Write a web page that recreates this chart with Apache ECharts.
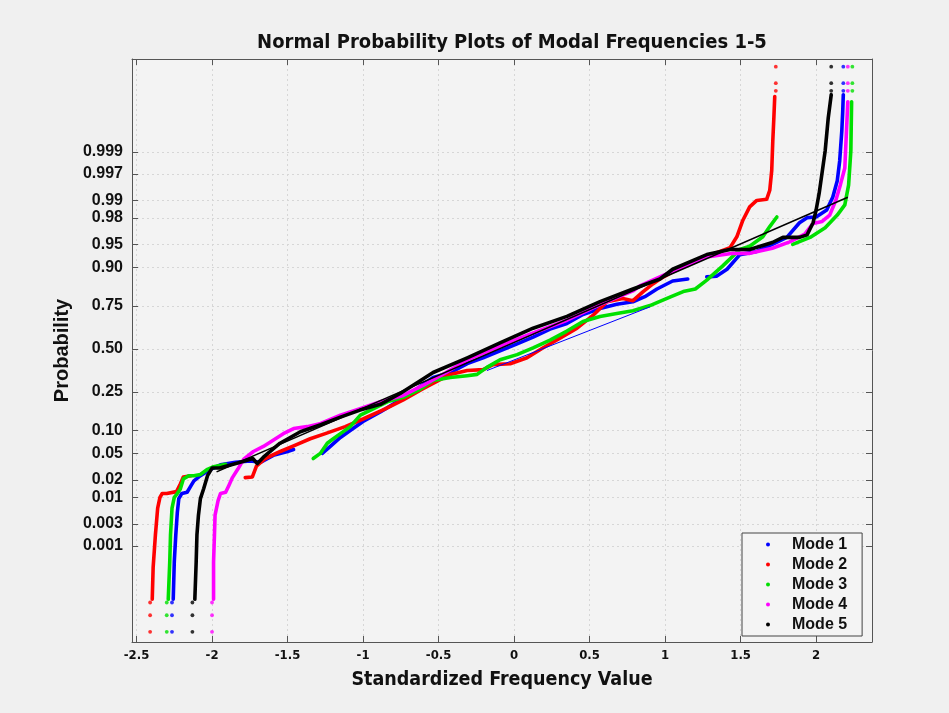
<!DOCTYPE html>
<html>
<head>
<meta charset="utf-8">
<script src="https://cdn.jsdelivr.net/npm/echarts@6/dist/echarts.min.js"></script>
<style>
html,body{margin:0;padding:0;background:#ffffff;}
#chart{width:949px;height:713px;}
</style>
</head>
<body>
<div id="chart"></div>
<script>
// ---------- DATA (x = standardized frequency value, q = normal quantile of probability) ----------
const titleText = 'Normal Probability Plots of Modal Frequencies 1-5';
const xAxisName = 'Standardized Frequency Value';
const yAxisName = 'Probability';
const seriesNames = ['Mode 1', 'Mode 2', 'Mode 3', 'Mode 4', 'Mode 5'];
const xTickValues = [-2.5, -2, -1.5, -1, -0.5, 0, 0.5, 1, 1.5, 2];
const probTicks = [0.001, 0.003, 0.01, 0.02, 0.05, 0.10, 0.25, 0.50, 0.75, 0.90, 0.95, 0.98, 0.99, 0.997, 0.999];
const probTickLabels = ['0.001', '0.003', '0.01', '0.02', '0.05', '0.10', '0.25', '0.50', '0.75', '0.90', '0.95', '0.98', '0.99', '0.997', '0.999'];

const mode1 = [[-2.257,-3.93],[-2.25,-3.34],[-2.24,-2.92],[-2.23,-2.57],[-2.22,-2.35],[-2.20,-2.27],[-2.165,-2.25],[-2.14,-2.15],[-2.12,-2.07],[-2.077,-1.99],[-2.01,-1.89],[-1.944,-1.82],[-1.845,-1.78],[-1.746,-1.76],[-1.68,-1.78],[-1.594,-1.67],[-1.50,-1.61],[-1.46,-1.58], null,
  [-1.27,-1.64],[-1.217,-1.53],[-1.15,-1.39],[-1.085,-1.28],[-1.0,-1.14],[-0.886,-0.99],[-0.754,-0.80],[-0.64,-0.62],[-0.536,-0.45],[-0.42,-0.37],[-0.31,-0.23],[-0.205,-0.14],[-0.093,-0.03],[0.02,0.08],[0.126,0.185],[0.238,0.31],[0.35,0.40],[0.456,0.54],[0.569,0.634],[0.68,0.70],[0.787,0.74],[0.866,0.82],[0.946,0.94],[1.05,1.066],[1.15,1.097], null,
  [1.276,1.13],[1.34,1.14],[1.41,1.25],[1.495,1.48],[1.607,1.53],[1.71,1.64],[1.806,1.75],[1.89,1.98],[1.94,2.06],[2.0,2.07],[2.07,2.18],[2.11,2.38],[2.14,2.64],[2.156,2.95],[2.17,3.42],[2.176,3.72],[2.18,3.99]];
const mode1Tails = [[-2.265,-4.44],[-2.265,-4.18],[-2.265,-3.98],[2.18,4.05],[2.18,4.17],[2.18,4.43]];

const mode2 = [[-2.396,-3.93],[-2.39,-3.43],[-2.375,-2.92],[-2.36,-2.50],[-2.345,-2.33],[-2.33,-2.27],[-2.30,-2.27],[-2.235,-2.24],[-2.21,-2.12],[-2.19,-2.01],[-2.14,-1.99], null,
  [-1.78,-2.02],[-1.733,-2.01],[-1.706,-1.84],[-1.647,-1.72],[-1.548,-1.61],[-1.448,-1.51],[-1.35,-1.41],[-1.25,-1.33],[-1.118,-1.22],[-1.0,-1.10],[-0.853,-0.94],[-0.734,-0.80],[-0.6,-0.62],[-0.423,-0.40],[-0.31,-0.34],[-0.205,-0.325],[-0.139,-0.247],[-0.026,-0.232],[0.086,-0.139],[0.19,0.015],[0.304,0.17],[0.417,0.325],[0.522,0.525],[0.615,0.742],[0.72,0.79],[0.787,0.757],[0.853,0.896],[0.919,1.02],[0.966,1.097],[1.05,1.21],[1.276,1.45],[1.43,1.59],[1.475,1.76],[1.515,2.02],[1.56,2.23],[1.607,2.33],[1.673,2.35],[1.693,2.49],[1.706,2.80],[1.713,3.26],[1.72,3.62],[1.726,3.96]];
const mode2Tails = [[-2.41,-4.44],[-2.41,-4.18],[-2.41,-3.98],[1.733,4.05],[1.733,4.17],[1.733,4.43]];

const mode3 = [[-2.29,-3.93],[-2.28,-3.34],[-2.275,-2.92],[-2.265,-2.50],[-2.25,-2.33],[-2.23,-2.27],[-2.21,-2.2],[-2.19,-2.04],[-2.154,-1.99],[-2.12,-1.99],[-2.077,-1.97],[-2.03,-1.89],[-1.99,-1.85],[-1.91,-1.81], null,
  [-1.33,-1.72],[-1.283,-1.64],[-1.237,-1.48],[-1.197,-1.41],[-1.15,-1.33],[-1.085,-1.22],[-1.018,-1.04],[-0.933,-0.94],[-0.84,-0.83],[-0.734,-0.76],[-0.62,-0.63],[-0.536,-0.495],[-0.423,-0.45],[-0.31,-0.42],[-0.245,-0.40],[-0.18,-0.29],[-0.093,-0.17],[0.02,-0.09],[0.126,0.015],[0.238,0.139],[0.35,0.28],[0.456,0.43],[0.569,0.51],[0.68,0.556],[0.787,0.60],[0.90,0.68],[0.95,0.73],[1.04,0.82],[1.12,0.90],[1.2,0.94],[1.276,1.08],[1.38,1.30],[1.495,1.56],[1.56,1.61],[1.647,1.76],[1.693,1.92],[1.74,2.07], null,
  [1.845,1.64],[1.96,1.75],[2.06,1.90],[2.14,2.10],[2.19,2.26],[2.215,2.57],[2.23,3.11],[2.235,3.88]];
const mode3Tails = [[-2.30,-4.44],[-2.30,-4.18],[-2.30,-3.98],[2.24,4.05],[2.24,4.17],[2.24,4.43]];

const mode4 = [[-1.99,-3.93],[-1.99,-3.34],[-1.984,-2.92],[-1.98,-2.61],[-1.96,-2.38],[-1.944,-2.27],[-1.91,-2.25],[-1.89,-2.15],[-1.865,-2.02],[-1.83,-1.89],[-1.79,-1.73],[-1.726,-1.61],[-1.66,-1.53],[-1.528,-1.33],[-1.46,-1.25],[-1.37,-1.22],[-1.28,-1.17],[-1.15,-1.04],[-1.02,-0.94],[-0.886,-0.83],[-0.734,-0.73],[-0.6,-0.57],[-0.45,-0.37],[-0.31,-0.17],[-0.093,0.046],[0.126,0.25],[0.35,0.45],[0.569,0.695],[0.787,0.91],[0.833,0.99],[1.05,1.22],[1.276,1.45],[1.30,1.45],[1.45,1.50],[1.56,1.50],[1.71,1.58],[1.825,1.68],[1.925,1.80],[1.98,1.97],[2.04,2.0],[2.09,2.1],[2.13,2.33],[2.16,2.57],[2.19,2.84],[2.20,3.37],[2.21,3.88]];
const mode4Tails = [[-2.0,-4.44],[-2.0,-4.18],[-2.0,-3.98],[2.21,4.05],[2.21,4.17],[2.21,4.43]];

const mode5 = [[-2.114,-3.93],[-2.105,-3.34],[-2.10,-2.92],[-2.09,-2.61],[-2.077,-2.35],[-2.055,-2.19],[-2.03,-1.99],[-2.0,-1.87],[-1.95,-1.87],[-1.83,-1.79],[-1.73,-1.72],[-1.70,-1.80],[-1.66,-1.70],[-1.55,-1.48],[-1.415,-1.30],[-1.28,-1.19],[-1.15,-1.07],[-1.02,-0.96],[-0.886,-0.87],[-0.754,-0.70],[-0.536,-0.37],[-0.31,-0.14],[-0.093,0.093],[0.126,0.325],[0.35,0.51],[0.569,0.742],[0.787,0.943],[0.966,1.097],[1.05,1.25],[1.276,1.48],[1.43,1.56],[1.56,1.56],[1.71,1.67],[1.78,1.75],[1.89,1.75],[1.94,1.79],[1.98,1.98],[2.0,2.18],[2.02,2.44],[2.06,3.11],[2.08,3.62],[2.10,3.99]];
const mode5Tails = [[-2.13,-4.44],[-2.13,-4.18],[-2.13,-3.98],[2.10,4.05],[2.10,4.17],[2.10,4.43]];

const refLineAll = [[-1.97,-1.93],[2.21,2.38]];
const refLineMode1 = [[-0.18,-0.34],[0.90,0.66]];

// ---------- helpers ----------
function norminv(p){
  const a=[-3.969683028665376e+01,2.209460984245205e+02,-2.759285104469687e+02,1.383577518672690e+02,-3.066479806614716e+01,2.506628277459239e+00];
  const b=[-5.447609879822406e+01,1.615858368580409e+02,-1.556989798598866e+02,6.680131188771972e+01,-1.328068155288572e+01];
  const c=[-7.784894002430293e-03,-3.223964580411365e-01,-2.400758277161838e+00,-2.549732539343734e+00,4.374664141464968e+00,2.938163982698783e+00];
  const d=[7.784695709041462e-03,3.224671290700398e-01,2.445134137142996e+00,3.754408661907416e+00];
  const pl=0.02425, ph=1-pl; let q,r;
  if(p<pl){q=Math.sqrt(-2*Math.log(p));return (((((c[0]*q+c[1])*q+c[2])*q+c[3])*q+c[4])*q+c[5])/((((d[0]*q+d[1])*q+d[2])*q+d[3])*q+1);}
  if(p<=ph){q=p-0.5;r=q*q;return (((((a[0]*r+a[1])*r+a[2])*r+a[3])*r+a[4])*r+a[5])*q/(((((b[0]*r+b[1])*r+b[2])*r+b[3])*r+b[4])*r+1);}
  q=Math.sqrt(-2*Math.log(1-p));
  return -(((((c[0]*q+c[1])*q+c[2])*q+c[3])*q+c[4])*q+c[5])/((((d[0]*q+d[1])*q+d[2])*q+d[3])*q+1);
}
const yTickQ = probTicks.map(norminv);
function probLabel(v){
  let best=0, bd=1e9;
  yTickQ.forEach((q,i)=>{const dd=Math.abs(q-v); if(dd<bd){bd=dd;best=i;}});
  return probTickLabels[best];
}

const colors = ['#0000ff', '#ff0000', '#00e000', '#ff00ff', '#000000'];
const curves = [mode1, mode2, mode3, mode4, mode5];
const tails = [mode1Tails, mode2Tails, mode3Tails, mode4Tails, mode5Tails];

const narrow = "'DejaVu Sans Condensed', 'Liberation Sans', sans-serif";
const sans = "'Liberation Sans', Arial, sans-serif";

const series = [];
curves.forEach((d,i)=>{
  series.push({
    name: seriesNames[i], type:'line', xAxisIndex:0, yAxisIndex:0,
    data: d, showSymbol:false, connectNulls:false, smooth:false,
    lineStyle:{color:colors[i], width:3.6, join:'round', cap:'round'},
    itemStyle:{color:colors[i]}, z: 3 + (i===4?1:0), silent:true, animation:false
  });
});
tails.forEach((d,i)=>{
  series.push({
    name: seriesNames[i], type:'scatter', xAxisIndex:0, yAxisIndex:0,
    data: d, symbol:'circle', symbolSize:3.8,
    itemStyle:{color:colors[i]}, z:3, silent:true, animation:false
  });
});
series.push({
  name:'ref', type:'line', data: refLineAll, showSymbol:false,
  lineStyle:{color:'#000000', width:1.6}, z:6, silent:true, animation:false
});
series.push({
  name:'ref1', type:'line', data: refLineMode1, showSymbol:false,
  lineStyle:{color:'#0000ff', width:1}, z:6, silent:true, animation:false
});

const chart = echarts.init(document.getElementById('chart'), null, {renderer:'canvas'});
chart.setOption({
  backgroundColor:'#f0f0f0',
  animation:false,
  title:{
    text:titleText, left:507, top:28, textAlign:'center',
    textStyle:{fontFamily:narrow, fontSize:20, fontWeight:'bold', color:'#111'}
  },
  legend:{
    data: seriesNames.map(n=>({name:n, icon:'circle'})),
    orient:'vertical', left:742, top:533,
    itemWidth:4, itemHeight:4, itemGap:3,
    padding:[3,15,3,24],
    backgroundColor:'#f4f4f4', borderColor:'#444', borderWidth:1,
    textStyle:{fontFamily:sans, fontSize:16, fontWeight:'bold', color:'#111', lineHeight:17, padding:[0,0,0,17]}
  },
  grid:{left:132, right:77, top:59, bottom:71, show:true, backgroundColor:'#f3f3f3', borderWidth:0},
  xAxis:[{
    type:'value', min:-2.53, max:2.37, interval:0.5,
    name:xAxisName, nameLocation:'middle', nameGap:28,
    nameTextStyle:{fontFamily:narrow, fontSize:19.5, fontWeight:'bold', color:'#111'},
    axisLine:{show:true, onZero:false, lineStyle:{color:'#555', width:1}},
    axisTick:{show:true, inside:true, length:6, lineStyle:{color:'#555'}, customValues:xTickValues},
    axisLabel:{fontFamily:narrow, fontSize:13, fontWeight:'bold', color:'#111', margin:7, customValues:xTickValues,
      formatter:v=>String(Math.round(v*10)/10)},
    splitLine:{show:true, lineStyle:{color:'#d6d6d6', type:[2,3], width:1}}
  },{
    type:'value', min:-2.53, max:2.37, position:'top',
    axisLine:{show:true, onZero:false, lineStyle:{color:'#555', width:1}},
    axisTick:{show:true, inside:true, length:6, lineStyle:{color:'#555'}, customValues:xTickValues},
    axisLabel:{show:false}, splitLine:{show:false}
  }],
  yAxis:[{
    type:'value', min:-4.6, max:4.55,
    name:yAxisName, nameLocation:'middle', nameGap:53, nameRotate:90,
    nameTextStyle:{fontFamily:sans, fontSize:20, fontWeight:'bold', color:'#111'},
    axisLine:{show:true, onZero:false, lineStyle:{color:'#555', width:1}},
    axisTick:{show:true, inside:true, length:6, lineStyle:{color:'#555'}, customValues:yTickQ},
    axisLabel:{fontFamily:sans, fontSize:16, fontWeight:'bold', color:'#111', margin:9, customValues:yTickQ, formatter:probLabel},
    splitLine:{show:true, lineStyle:{color:'#d6d6d6', type:[2,3], width:1}}
  },{
    type:'value', min:-4.6, max:4.55, position:'right',
    axisLine:{show:true, onZero:false, lineStyle:{color:'#555', width:1}},
    axisTick:{show:true, inside:true, length:6, lineStyle:{color:'#555'}, customValues:yTickQ},
    axisLabel:{show:false}, splitLine:{show:false}
  }],
  series: series
});
</script>
</body>
</html>
